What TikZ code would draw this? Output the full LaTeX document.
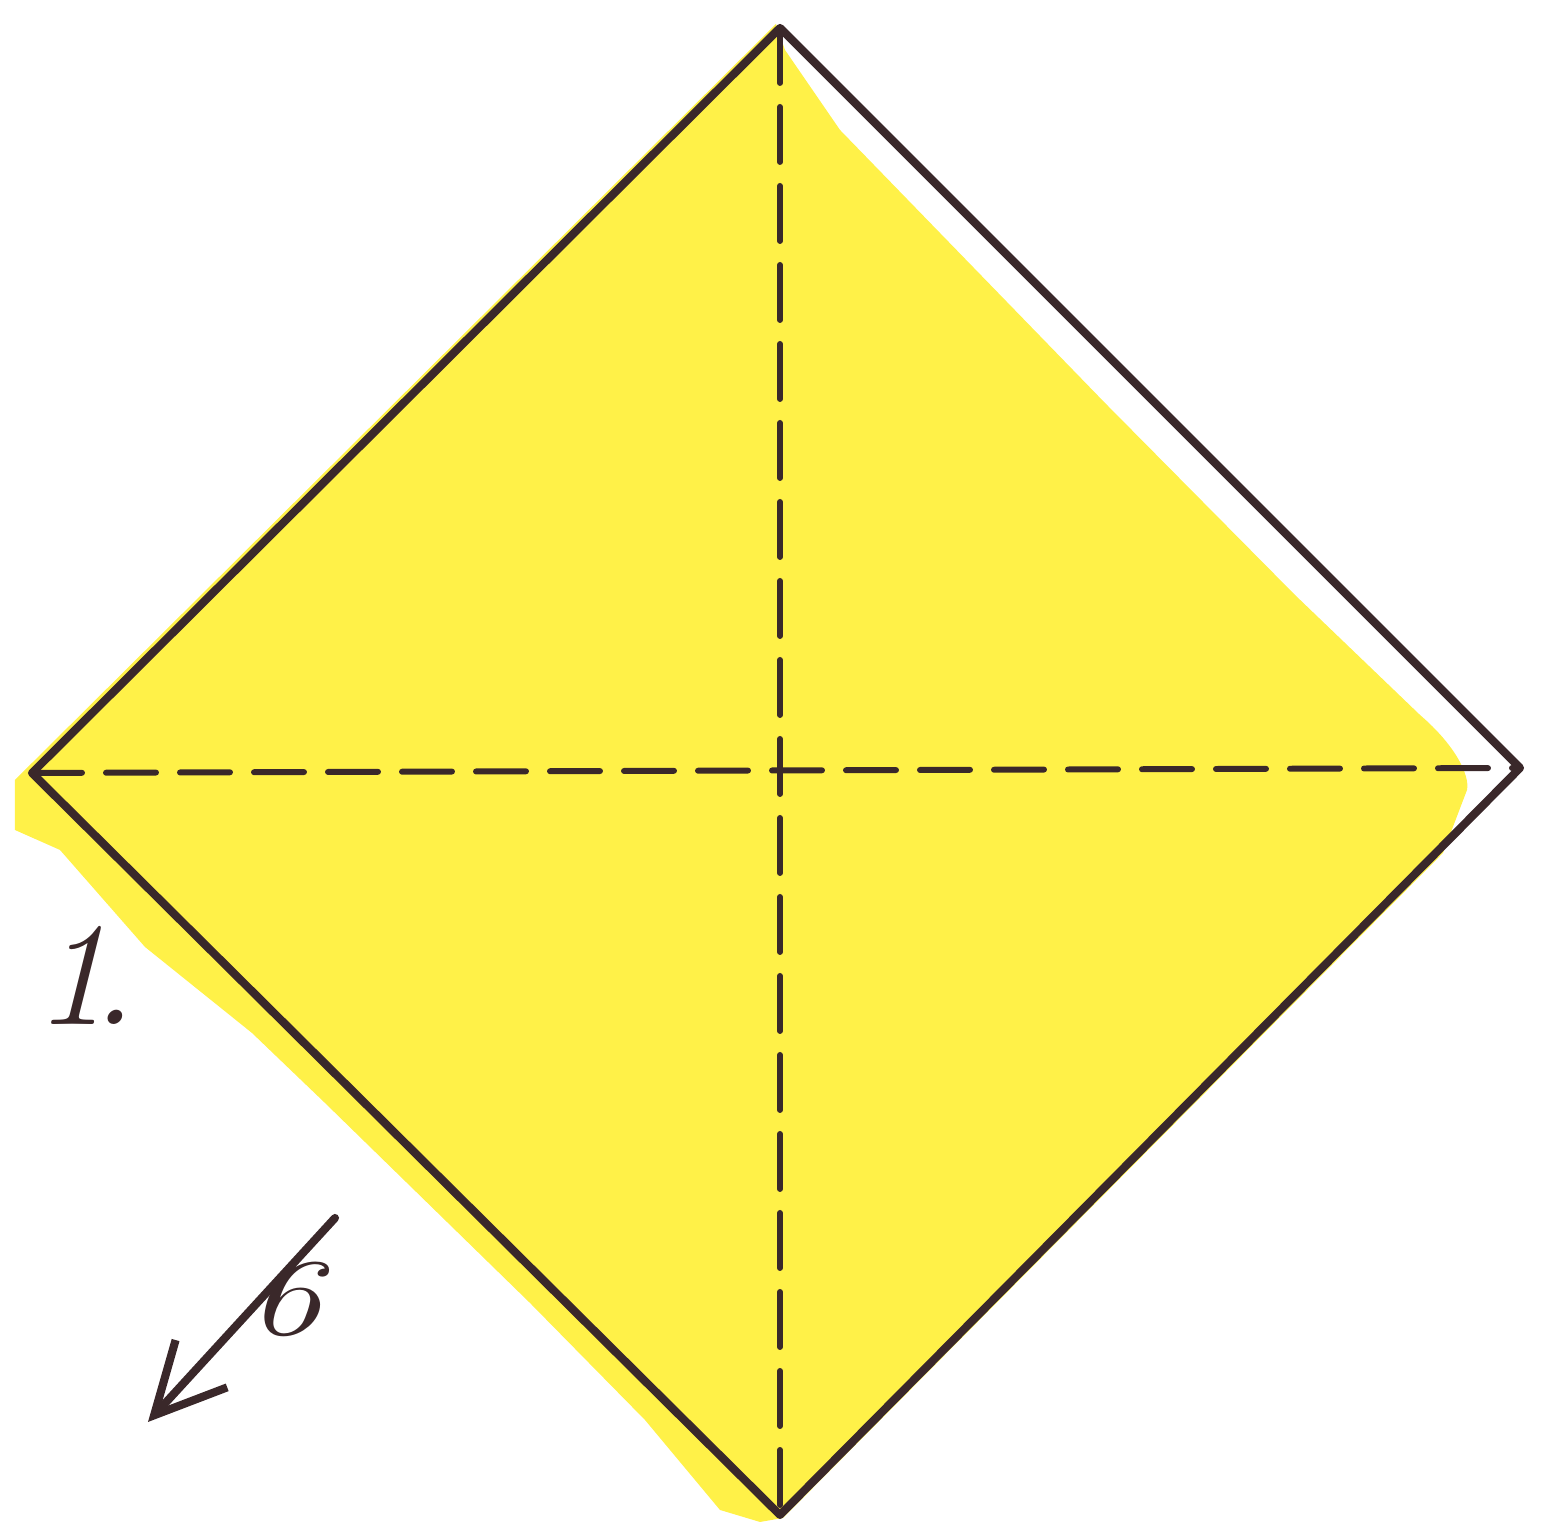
\documentclass[tikz,border=0pt]{standalone}
\usepackage{tikz}
\usetikzlibrary{arrows.meta}
\definecolor{ink}{RGB}{58,40,42}
\definecolor{paper}{RGB}{255,241,72}

\begin{document}
\begin{tikzpicture}[>={Straight Barb[length=7mm,width=7mm]},line cap=round,line join=round]
  \useasboundingbox (0,0) rectangle (15.46,15.25);
  \coordinate (T) at (7.80,14.97);
  \coordinate (L) at (0.32,7.52);
  \coordinate (R) at (15.20,7.57);
  \coordinate (B) at (7.80,0.10);
  \coordinate (O) at (7.80,7.57);
  % yellow colouring, a bit off the edges
  \fill[paper] (7.76,15.01) -- (7.85,14.75) -- (8.40,13.95) -- (11.05,11.22)
    -- (12.95,9.30) -- (14.20,8.10)
    .. controls (14.55,7.80) and (14.70,7.50) .. (14.67,7.35)
    -- (14.43,6.72) -- (7.83,0.07) -- (7.60,0.03) -- (7.20,0.15)
    -- (6.45,1.05) -- (5.30,2.22) -- (3.25,4.22) -- (2.52,4.92)
    -- (1.45,5.78) -- (0.60,6.75) -- (0.15,6.95) -- (0.15,7.45)
    -- (0.28,7.58) -- cycle;
  \draw[ink,line width=1.7pt,dash pattern=on 0.5cm off 0.24cm] (L) -- (R);
  \draw[ink,line width=1.7pt,dash pattern=on 0.55cm off 0.24cm] (T) -- (B);
  \draw[ink,line width=2.3pt] (T) -- (R) -- (B) -- (L) -- cycle;
  \node[anchor=base,ink] (one) at (0.85,5.00) {\fontsize{42}{44}\selectfont\itshape 1\kern-0.12em.};
  \node[anchor=base,ink,xscale=1.35] (six) at (2.84,1.90) {\fontsize{31}{33}\selectfont\itshape 6};
  \coordinate (a1) at (3.35,3.07);
  \coordinate (a2) at (1.48,1.03);
  \draw[ink,line width=2.3pt,->] (a1) -- (a2);
\end{tikzpicture}
\end{document}
